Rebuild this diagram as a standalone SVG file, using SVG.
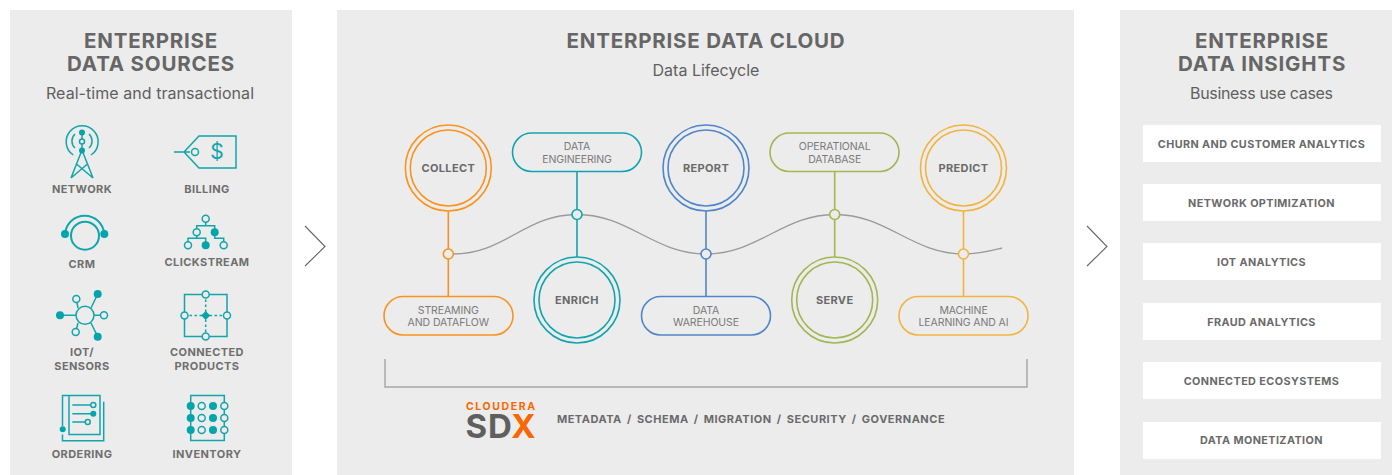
<svg xmlns="http://www.w3.org/2000/svg" width="1392" height="475" viewBox="0 0 1392 475">
<style>
text{font-family:Inter,"Liberation Sans",sans-serif;text-anchor:middle}
.panel{fill:#ececec}
.title{font-size:20.5px;font-weight:700;fill:#666;letter-spacing:.8px}
.sub{font-size:16px;fill:#5f5f5f}
.lab{font-size:11px;font-weight:700;fill:#6f6f6f;letter-spacing:.42px}
.cl{font-size:11px;font-weight:700;fill:#6a6a6a;letter-spacing:.35px}
.pl{font-size:10.5px;fill:#7a7a7a;letter-spacing:-.1px}
.ins{font-size:10.8px;font-weight:700;fill:#6a6a6a;letter-spacing:.42px}
.ic{fill:none;stroke:#12a5ac;stroke-width:1.5}
.f{fill:#03a5ac;stroke:none}
.o{fill:#ececec;stroke:#12a5ac;stroke-width:1.5}
.chev{fill:none;stroke:#666;stroke-width:1.1}
.wave{fill:none;stroke:#9a9a9a;stroke-width:1.4}
.orange{fill:none;stroke:#f9931e;stroke-width:1.6}
.teal{fill:none;stroke:#10a5ae;stroke-width:1.6}
.blue{fill:none;stroke:#4f86c9;stroke-width:1.6}
.green{fill:none;stroke:#a3b652;stroke-width:1.6}
.yellow{fill:none;stroke:#f2b441;stroke-width:1.6}
.box{fill:#fff}
</style>
<rect width="1392" height="475" fill="#fff"/>
<rect class="panel" x="10" y="10" width="282" height="465"/>
<rect class="panel" x="337" y="10" width="737" height="465"/>
<rect class="panel" x="1120" y="10" width="272" height="465"/>
<g id="titles">
<text class="title" x="151" y="48">ENTERPRISE</text>
<text class="title" x="151" y="71">DATA SOURCES</text>
<text class="sub" x="150" y="99" textLength="208">Real-time and transactional</text>
<text class="title" x="706" y="48">ENTERPRISE DATA CLOUD</text>
<text class="sub" x="706" y="76">Data Lifecycle</text>
<text class="title" x="1262" y="48">ENTERPRISE</text>
<text class="title" x="1262" y="71">DATA INSIGHTS</text>
<text class="sub" x="1261.500" y="99" textLength="143">Business use cases</text>
</g>
<g id="chevrons">
<path class="chev" d="M305 226L325 246.500L305 266"/>
<path class="chev" d="M1087 226L1107 246.500L1087 266"/>
</g>
<g id="network">
<path class="ic" d="M73.300 155A16 16 0 1 1 91 155M75 134A9.500 9.500 0 0 0 75 148M89 134A9.500 9.500 0 0 1 89 148M82 132V150M82 150L71 178M82 150L93 178M76.500 164L93 178M87.500 164L71 178"/>
<circle class="f" cx="82" cy="132.500" r="3"/><circle class="o" cx="82" cy="141.500" r="2.500"/><circle class="f" cx="82" cy="150.500" r="3"/>
<text class="lab" x="82" y="193">NETWORK</text>
</g>
<g id="billing">
<path class="ic" d="M174 152H190M199 136H236V168H199L184 152Z"/>
<circle class="o" cx="195" cy="152" r="3.500"/>
<text x="217" y="159" style="font-size:21px;fill:#12a5ac">$</text>
<text class="lab" x="207" y="193">BILLING</text>
</g>
<g id="crm">
<path class="ic" style="stroke-width:2" d="M65 234A19.700 19.700 0 0 1 104.300 234"/>
<circle class="ic" style="stroke-width:2" cx="85" cy="235.700" r="14"/>
<circle class="f" cx="65" cy="234" r="4"/><circle class="f" cx="104.300" cy="234" r="4"/>
<text class="lab" x="82" y="268">CRM</text>
</g>
<g id="clickstream">
<path class="ic" d="M205.700 222V225.700M196.700 229V225.700H214.700V229M188 242V238.300H205.700V242M196.700 236V238.300M214.700 236V238.300H223.700V242"/>
<circle class="o" cx="205.700" cy="218.700" r="3.500"/><circle class="o" cx="196.700" cy="232.300" r="3.500"/><circle class="f" cx="214.700" cy="232.300" r="4"/>
<circle class="o" cx="188" cy="245.300" r="3.500"/><circle class="f" cx="205.700" cy="245.300" r="4"/><circle class="o" cx="223.700" cy="245.300" r="3.500"/>
<text class="lab" x="207" y="266">CLICKSTREAM</text>
</g>
<g id="iot">
<path class="ic" d="M60 315.300H76M94 315.300H104M91 308L97.700 294M78 308L76.300 299M91 323L97.700 336.700M78 323L75.700 332"/>
<circle class="o" cx="85" cy="315.300" r="9"/>
<circle class="f" cx="60" cy="315.300" r="4"/><circle class="f" cx="97.700" cy="294" r="4"/><circle class="f" cx="97.700" cy="336.700" r="4"/>
<circle class="o" cx="104" cy="315.300" r="3.500"/><circle class="o" cx="76.300" cy="299" r="3.500"/><circle class="o" cx="75.700" cy="332" r="3.500"/>
<text class="lab" x="82" y="356">IOT/</text>
<text class="lab" x="82" y="370">SENSORS</text>
</g>
<g id="connected-products">
<rect class="ic" x="184.500" y="294.500" width="42.500" height="42"/>
<path class="ic" stroke-dasharray="2.500 2.500" d="M184.500 315.500H227M205.700 294.500V336.500"/>
<circle class="o" cx="205.700" cy="294.500" r="3.500"/><circle class="o" cx="184.500" cy="315.500" r="3.500"/><circle class="o" cx="227" cy="315.500" r="3.500"/><circle class="o" cx="205.700" cy="336.500" r="3.500"/>
<path class="f" d="M205.700 311L210.200 315.500L205.700 320L201.200 315.500Z"/>
<text class="lab" x="207" y="356">CONNECTED</text>
<text class="lab" x="207" y="370">PRODUCTS</text>
</g>
<g id="ordering">
<path class="ic" d="M62.500 426V395.500H100V434.500H69V395.500M62.500 434.500V440.700H103.700V401.700M72.300 405H91M72.300 413.700H91M72.300 422H85"/>
<circle class="o" cx="93.300" cy="405" r="2.500"/><circle class="f" cx="93.300" cy="413.700" r="3"/><circle class="o" cx="87.700" cy="422" r="2.500"/><circle class="f" cx="62.700" cy="429.300" r="3"/>
<text class="lab" x="82" y="458">ORDERING</text>
</g>
<g id="inventory">
<rect class="ic" x="190.700" y="395.500" width="33.600" height="45"/>
<circle class="f" cx="190.700" cy="406" r="4"/><circle class="o" cx="201.700" cy="406" r="3.500"/><circle class="f" cx="213" cy="406" r="4"/><circle class="o" cx="224.300" cy="406" r="3.500"/>
<circle class="f" cx="190.700" cy="418" r="4"/><circle class="o" cx="201.700" cy="418" r="3.500"/><circle class="f" cx="213" cy="418" r="4"/><circle class="o" cx="224.300" cy="418" r="3.500"/>
<circle class="f" cx="190.700" cy="430" r="4"/><circle class="o" cx="201.700" cy="430" r="3.500"/><circle class="f" cx="213" cy="430" r="4"/><circle class="o" cx="224.300" cy="430" r="3.500"/>
<text class="lab" x="207" y="458">INVENTORY</text>
</g>
<g id="connectors">
<path class="wave" d="M453 254C505 254 525 214.500 577 214.500C629 214.500 654 254 706 254C758 254 783 214.500 835 214.500C887 214.500 912 254 964 254C980 254 990 251 1002 248"/>
<path class="orange" d="M448.300 211V296"/>
<path class="teal" d="M577 172V257"/>
<path class="blue" d="M706 211V296"/>
<path class="green" d="M834.700 172V257"/>
<path class="yellow" d="M963.500 211V296"/>
<path fill="none" stroke="#a5a5a5" stroke-width="1.400" d="M385 359V387H1027V359"/>
<circle class="orange" cx="448.300" cy="254" r="5" style="fill:#ececec"/>
<circle class="teal" cx="577" cy="214.500" r="5" style="fill:#ececec"/>
<circle class="blue" cx="706" cy="254" r="5" style="fill:#ececec"/>
<circle class="green" cx="834.700" cy="214.500" r="5" style="fill:#ececec"/>
<circle class="yellow" cx="963.500" cy="254" r="5" style="fill:#ececec"/>
</g>
<g id="collect"><circle class="orange" cx="448.300" cy="168" r="43"/><circle class="orange" cx="448.300" cy="168" r="38"/><text class="cl" x="448.300" y="172">COLLECT</text></g>
<g id="enrich"><circle class="teal" cx="577" cy="300" r="43"/><circle class="teal" cx="577" cy="300" r="38"/><text class="cl" x="577" y="304">ENRICH</text></g>
<g id="report"><circle class="blue" cx="706" cy="168" r="43"/><circle class="blue" cx="706" cy="168" r="38"/><text class="cl" x="706" y="172">REPORT</text></g>
<g id="serve"><circle class="green" cx="834.700" cy="300" r="43"/><circle class="green" cx="834.700" cy="300" r="38"/><text class="cl" x="834.700" y="304">SERVE</text></g>
<g id="predict"><circle class="yellow" cx="963.500" cy="168" r="43"/><circle class="yellow" cx="963.500" cy="168" r="38"/><text class="cl" x="963.500" y="172">PREDICT</text></g>
<g id="data-engineering"><rect class="teal" x="512.500" y="133" width="129" height="38.500" rx="19.250"/><text class="pl" x="577" y="150">DATA</text><text class="pl" x="577" y="163">ENGINEERING</text></g>
<g id="operational-database"><rect class="green" x="770" y="133" width="129" height="38.500" rx="19.250"/><text class="pl" x="834.700" y="150">OPERATIONAL</text><text class="pl" x="834.700" y="163">DATABASE</text></g>
<g id="streaming"><rect class="orange" x="384" y="296.500" width="129" height="38.500" rx="19.250"/><text class="pl" x="448.300" y="314">STREAMING</text><text class="pl" x="448.300" y="326">AND DATAFLOW</text></g>
<g id="data-warehouse"><rect class="blue" x="641.500" y="296.500" width="129" height="38.500" rx="19.250"/><text class="pl" x="706" y="314">DATA</text><text class="pl" x="706" y="326">WAREHOUSE</text></g>
<g id="machine-learning"><rect class="yellow" x="899" y="296.500" width="129" height="38.500" rx="19.250"/><text class="pl" x="963.500" y="314">MACHINE</text><text class="pl" x="963.500" y="326">LEARNING AND AI</text></g>
<g id="sdx">
<text x="500.500" y="409.500" textLength="69" style="font-size:10.500px;font-weight:700;fill:#f96702">CLOUDERA</text>
<text x="500.500" y="438" textLength="70" style="font-size:33px;font-weight:700;fill:#5f5f5f">SD<tspan style="fill:#f96702">X</tspan></text>
<text x="751" y="423" style="font-size:11px;font-weight:700;fill:#6a6a6a;letter-spacing:.5px;word-spacing:2.1px">METADATA / SCHEMA / MIGRATION / SECURITY / GOVERNANCE</text>
</g>
<g id="insights">
<rect class="box" x="1143" y="125" width="238" height="37"/><text class="ins" x="1261.500" y="148">CHURN AND CUSTOMER ANALYTICS</text>
<rect class="box" x="1143" y="184" width="238" height="37"/><text class="ins" x="1261.500" y="207">NETWORK OPTIMIZATION</text>
<rect class="box" x="1143" y="243" width="238" height="37"/><text class="ins" x="1261.500" y="266">IOT ANALYTICS</text>
<rect class="box" x="1143" y="303" width="238" height="37"/><text class="ins" x="1261.500" y="326">FRAUD ANALYTICS</text>
<rect class="box" x="1143" y="362" width="238" height="37"/><text class="ins" x="1261.500" y="385">CONNECTED ECOSYSTEMS</text>
<rect class="box" x="1143" y="422" width="238" height="37"/><text class="ins" x="1261.500" y="444">DATA MONETIZATION</text>
</g>
</svg>
